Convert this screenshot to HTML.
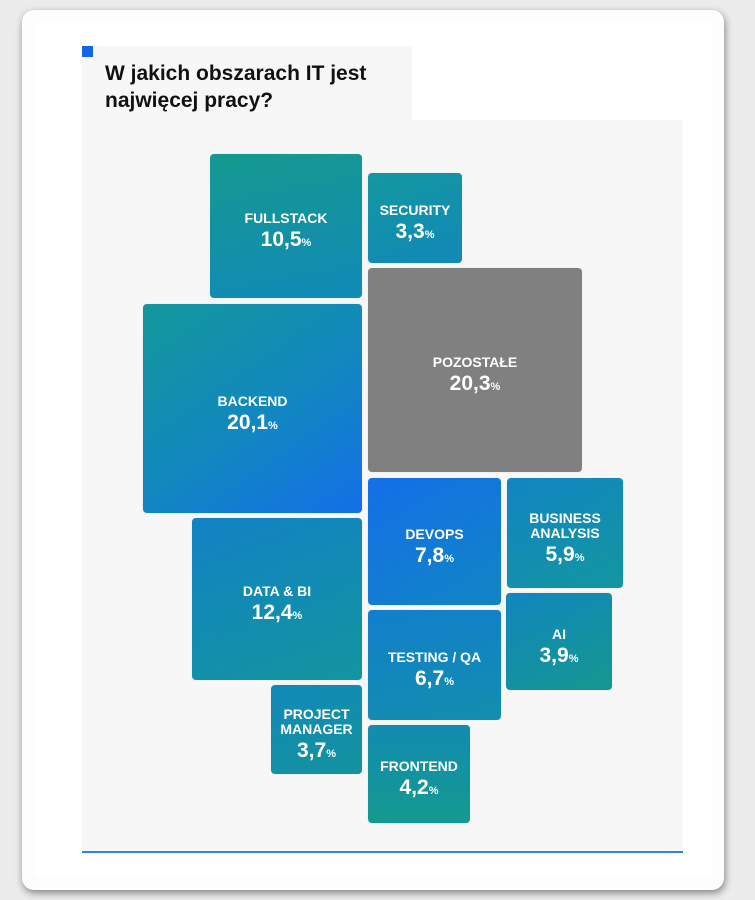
<!DOCTYPE html>
<html><head><meta charset="utf-8"><style>
body{margin:0;width:755px;height:900px;background:#ececec;position:relative;overflow:hidden;font-family:"Liberation Sans",sans-serif}
.card{position:absolute;left:22px;top:10px;width:702px;height:880px;background:#fdfdfd;border-radius:12px;box-shadow:1px 3px 8px rgba(0,0,0,.45)}
.inner{position:absolute;left:35px;top:22px;width:676px;height:855px;background:#fff}
.panel{position:absolute;left:82px;top:120px;width:601px;height:732px;background:#f7f7f7}
.tpanel{position:absolute;left:82px;top:46px;width:330px;height:74px;background:#f7f7f7}
.sq{position:absolute;left:82px;top:46px;width:11px;height:11px;background:#1565e8}
.title{position:absolute;left:105px;top:60px;font-size:21px;font-weight:bold;color:#111;line-height:27px}
.line{position:absolute;left:82px;top:851px;width:601px;height:2px;background:#2f7ff0}
.b{position:absolute;box-sizing:border-box;padding-top:16px;border-radius:4px;color:#fff;display:flex;flex-direction:column;align-items:center;justify-content:center;text-align:center;font-weight:bold;box-shadow:0 0 1px rgba(0,0,0,.2)}
.b .l{font-size:14px;line-height:15px}
.b .v{font-size:21px;line-height:28px}
.b .v small{font-size:11px}
</style></head><body>
<div class="card"></div><div class="inner"></div>
<div class="panel"></div><div class="tpanel"></div><div class="sq"></div>
<div class="title">W jakich obszarach IT jest<br>najwięcej pracy?</div>
<div class="b" style="left:210px;top:154px;width:152px;height:144px;background:linear-gradient(170deg,#14998f,#128ab8)"><div class="l">FULLSTACK</div><div class="v">10,5<small>%</small></div></div>
<div class="b" style="left:368px;top:173px;width:94px;height:90px;background:linear-gradient(160deg,#1398a0,#1288b8)"><div class="l">SECURITY</div><div class="v">3,3<small>%</small></div></div>
<div class="b" style="left:368px;top:268px;width:214px;height:204px;background:#808080"><div class="l">POZOSTAŁE</div><div class="v">20,3<small>%</small></div></div>
<div class="b" style="left:143px;top:304px;width:219px;height:209px;background:linear-gradient(145deg,#13989a,#1287c0 55%,#136fe8)"><div class="l">BACKEND</div><div class="v">20,1<small>%</small></div></div>
<div class="b" style="left:368px;top:478px;width:133px;height:127px;background:linear-gradient(150deg,#136fe8,#1285c4)"><div class="l">DEVOPS</div><div class="v">7,8<small>%</small></div></div>
<div class="b" style="left:507px;top:478px;width:116px;height:110px;background:linear-gradient(150deg,#1285c4,#13969f)"><div class="l">BUSINESS<br>ANALYSIS</div><div class="v">5,9<small>%</small></div></div>
<div class="b" style="left:192px;top:518px;width:170px;height:162px;background:linear-gradient(160deg,#1282c4,#13959f)"><div class="l">DATA &amp; BI</div><div class="v">12,4<small>%</small></div></div>
<div class="b" style="left:368px;top:610px;width:133px;height:110px;background:linear-gradient(170deg,#127fcc,#138eae)"><div class="l">TESTING / QA</div><div class="v">6,7<small>%</small></div></div>
<div class="b" style="left:506px;top:593px;width:106px;height:97px;background:linear-gradient(150deg,#1286c0,#14988f)"><div class="l">AI</div><div class="v">3,9<small>%</small></div></div>
<div class="b" style="left:271px;top:685px;width:91px;height:89px;background:linear-gradient(160deg,#128ab8,#13929f)"><div class="l">PROJECT<br>MANAGER</div><div class="v">3,7<small>%</small></div></div>
<div class="b" style="left:368px;top:725px;width:102px;height:98px;background:linear-gradient(180deg,#128cb0,#14998f)"><div class="l">FRONTEND</div><div class="v">4,2<small>%</small></div></div>
<div class="line"></div>
</body></html>
